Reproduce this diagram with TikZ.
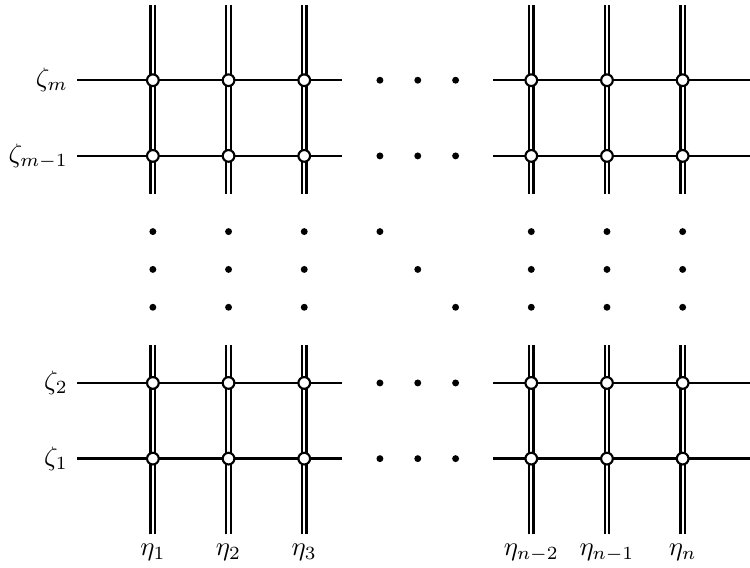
\documentclass[tikz,border=0pt]{standalone}
\begin{document}
\begin{tikzpicture}[every node/.style={font=\normalsize},
    wire/.style={line width=0.9pt},
    dwire/.style={line width=0.9pt, double=white, double distance=0.8pt},
    site/.style={fill=white, line width=0.8pt}]
  \useasboundingbox (-2.02,-1.44) rectangle (7.89,6.06);

  % vertical double lines
  \foreach \x in {0,1,2,5,6,7} {
    \draw[dwire] (\x,-1) -- (\x,1.5);
    \draw[dwire] (\x,3.5) -- (\x,6);
  }

  % horizontal lines and the dots between the two blocks
  \foreach \y in {0,1,4,5} {
    \draw[wire] (-1,\y) -- (2.5,\y);
    \draw[wire] (4.5,\y) -- (7.89,\y);
    \foreach \x in {3,3.5,4}
      \fill (\x,\y) circle (1.3pt);
  }

  % sites
  \foreach \x in {0,1,2,5,6,7}
    \foreach \y in {0,1,4,5}
      \draw[site] (\x,\y) circle (2.2pt);

  % vertical dots
  \foreach \x in {0,1,2,5,6,7}
    \foreach \y in {2,2.5,3}
      \fill (\x,\y) circle (1.3pt);
  \fill (3,3) circle (1.3pt);
  \fill (3.5,2.5) circle (1.3pt);
  \fill (4,2) circle (1.3pt);

  \node[left] (zeta1) at (-1,0) {\(\zeta_1\)};
  \node[left] (zeta2) at (-1,1) {\(\zeta_2\)};
  \node[left] (zetam1) at (-1,4) {\(\zeta_{m-1}\)};
  \node[left] (zetam) at (-1,5) {\(\zeta_m\)};

  \node[below] (eta1) at (0,-1) {\(\eta_1\)};
  \node[below] (eta2) at (1,-1) {\(\eta_2\)};
  \node[below] (eta3) at (2,-1) {\(\eta_3\)};
  \node[below] (etan2) at (5,-1) {\(\eta_{n-2}\)};
  \node[below] (etan1) at (6,-1) {\(\eta_{n-1}\)};
  \node[below] (etan) at (7,-1) {\(\eta_n\)};
\end{tikzpicture}
\end{document}
